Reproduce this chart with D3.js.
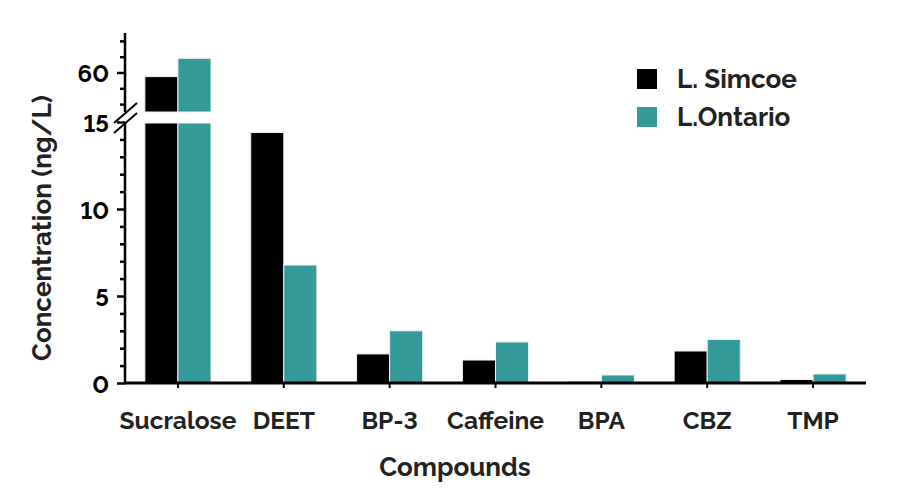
<!DOCTYPE html>
<html>
<head>
<meta charset="utf-8">
<script src="https://cdn.jsdelivr.net/npm/d3@7"></script>
<style>
  body { margin: 0; background: #fff; }
  text { font-family: "Raleway", "Lato", sans-serif; font-variant-numeric: lining-nums; font-feature-settings: "lnum" 1; }
</style>
</head>
<body>
<script>
// data
var categories = ["Sucralose", "DEET", "BP-3", "Caffeine", "BPA", "CBZ", "TMP"];
var simcoe  = [58.7, 14.4, 1.67, 1.32, 0.1, 1.84, 0.2];
var ontario = [64.5, 6.78, 3.0, 2.36, 0.46, 2.5, 0.52];
var seriesNames = ["L. Simcoe", "L.Ontario"];
var colors = ["#000000", "#339999"];
var lowTicks = [0, 5, 10, 15];
var highTicks = [60];

var width = 900, height = 500;

var svg = d3.select("body").append("svg")
    .attr("width", width)
    .attr("height", height);

// scales
var x = d3.scaleBand().domain(categories).range([125, 866])
    .paddingInner(0.375).paddingOuter(0.1875);
var xs = d3.scaleBand().domain([0, 1]).range([0, x.bandwidth()]);

// lower part 0-15, upper part above the break
var yLow = d3.scaleLinear().domain([0, 15]).range([383, 122]);
var yHigh = d3.scaleLinear().domain([47.5, 72.5]).range([112, 33]);

var rows = [];
categories.forEach(function(c, i) {
  rows.push({cat: c, s: 0, v: simcoe[i]});
  rows.push({cat: c, s: 1, v: ontario[i]});
});

// bars, lower segment
svg.append("g").selectAll("rect")
  .data(rows)
  .join("rect")
    .attr("x", function(d) { return x(d.cat) + xs(d.s); })
    .attr("width", xs.bandwidth())
    .attr("y", function(d) { return d.v > 15 ? yLow(15) + 1 : yLow(d.v); })
    .attr("height", function(d) { return yLow(0) - (d.v > 15 ? yLow(15) + 1 : yLow(d.v)); })
    .attr("fill", function(d) { return colors[d.s]; })
    .attr("stroke", "#f2f2f2")
    .attr("stroke-width", 1);

// bars, upper segment
svg.append("g").selectAll("rect")
  .data(rows.filter(function(d) { return d.v > 15; }))
  .join("rect")
    .attr("x", function(d) { return x(d.cat) + xs(d.s); })
    .attr("width", xs.bandwidth())
    .attr("y", function(d) { return yHigh(d.v); })
    .attr("height", function(d) { return yHigh(yHigh.domain()[0]) - yHigh(d.v); })
    .attr("fill", function(d) { return colors[d.s]; })
    .attr("stroke", "#f2f2f2")
    .attr("stroke-width", 1);

// y axis lower
var axLow = svg.append("g")
    .attr("transform", "translate(125,0)")
    .call(d3.axisLeft(yLow).tickValues(d3.range(0, 16)).tickSize(7)
      .tickFormat(function(d) { return lowTicks.indexOf(d) >= 0 ? d : ""; }));
axLow.selectAll(".tick line")
    .attr("x2", function(d) { return lowTicks.indexOf(d) >= 0 ? -8 : -5; })
    .attr("stroke-width", 2.5);

// y axis upper
var axHigh = svg.append("g")
    .attr("transform", "translate(125,0)")
    .call(d3.axisLeft(yHigh).tickValues([50, 55, 60, 65, 70]).tickSize(7)
      .tickFormat(function(d) { return highTicks.indexOf(d) >= 0 ? d : ""; }));
axHigh.selectAll(".tick line")
    .attr("x2", function(d) { return highTicks.indexOf(d) >= 0 ? -8 : -5; })
    .attr("stroke-width", 2.5);

[axLow, axHigh].forEach(function(ax) {
  ax.select(".domain").attr("d", null);
  ax.selectAll(".tick text")
    .attr("x", -16)
    .attr("dy", "0.38em")
    .attr("font-size", 24)
    .attr("font-weight", 700)
    .attr("fill", "#000");
});

svg.append("line")
    .attr("x1", 125).attr("x2", 125)
    .attr("y1", yLow(0)).attr("y2", yLow(15))
    .attr("stroke", "#000").attr("stroke-width", 2.5);
svg.append("line")
    .attr("x1", 125).attr("x2", 125)
    .attr("y1", yHigh(47.5)).attr("y2", yHigh(72.5))
    .attr("stroke", "#000").attr("stroke-width", 2.5);

// break marks
svg.append("g").selectAll("line")
  .data([0, 10])
  .join("line")
    .attr("x1", 114).attr("x2", 137)
    .attr("y1", function(d) { return 123 + d; })
    .attr("y2", function(d) { return 103 + d; })
    .attr("stroke", "#000").attr("stroke-width", 2);

// x axis
var axX = svg.append("g")
    .attr("transform", "translate(0,383)")
    .call(d3.axisBottom(x).tickSize(5).tickSizeOuter(0));
axX.select(".domain").attr("stroke-width", 3).attr("d", "M124,0H866");
axX.selectAll(".tick line").attr("stroke-width", 2);
axX.selectAll(".tick text")
    .attr("y", 29)
    .attr("font-size", 24.5)
    .attr("font-weight", 700)
    .attr("fill", "#222");

// axis titles
svg.append("text")
    .attr("x", 455).attr("y", 476)
    .attr("text-anchor", "middle")
    .attr("font-size", 26).attr("font-weight", 700).attr("fill", "#222")
    .text("Compounds");

svg.append("text")
    .attr("transform", "translate(51,228) rotate(-90)")
    .attr("text-anchor", "middle")
    .attr("font-size", 26).attr("font-weight", 700).attr("fill", "#222")
    .text("Concentration (ng/L)");

// legend
var legend = svg.append("g").selectAll("g")
  .data(seriesNames)
  .join("g")
    .attr("transform", function(d, i) { return "translate(637," + (69 + i * 38) + ")"; });
legend.append("rect")
    .attr("width", 20).attr("height", 20)
    .attr("fill", function(d, i) { return colors[i]; });
legend.append("text")
    .attr("x", 40).attr("y", 10).attr("dy", "0.36em")
    .attr("font-size", 26).attr("font-weight", 700).attr("fill", "#222")
    .text(function(d) { return d; });
</script>
</body>
</html>
